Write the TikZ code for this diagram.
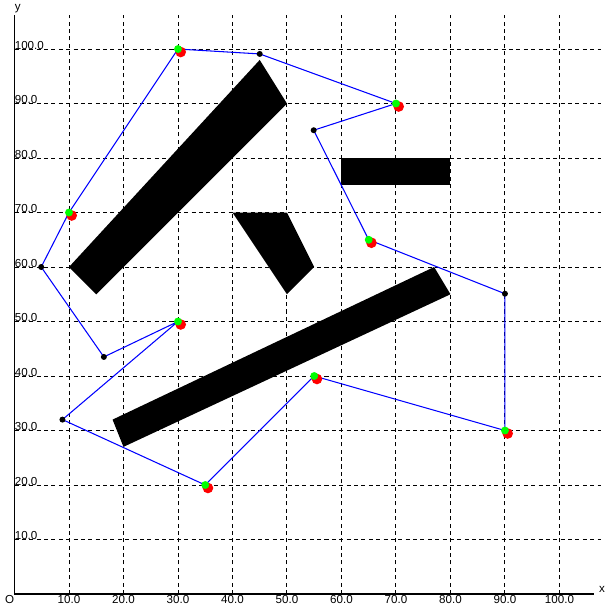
\documentclass[tikz,border=0pt]{standalone}
\usepackage{fontspec}
\setsansfont{Liberation Sans}
\usepackage{tikz}
\usetikzlibrary{positioning}
\tikzstyle{route} = [draw=blue, line width=0.6pt]

\begin{document}
\begin{tikzpicture}[x=0.109cm, y=0.109cm, every node/.style={font=\sffamily\fontsize{6.6}{7}\selectfont, inner sep=0pt}]
    % Define styles
    \tikzset{
        gridline/.style={black, line width=0.55pt, dash pattern=on 2.3pt off 1.9pt},
        axisline/.style={black, line width=0.9pt},
        obstacle/.style={fill=black},
        goal/.style={circle, fill=green, minimum size=0.158cm, draw=none},
        goalshift/.style={circle, fill=red, minimum size=0.213cm, draw=none},
        via/.style={circle, fill=black, minimum size=0.12cm, draw=none}
    }
    \useasboundingbox (-2.66,-3.12) rectangle (109.45,109.0);

    % --- GRID ---
    \foreach \i in {10,20,...,100} {
        \draw[gridline] (\i,0) -- (\i,106.2);
        \draw[gridline] (0,\i) -- (107.7,\i);
        \node[anchor=base] (xt\i) at (\i,-1.83) {\i.0};
        \node[anchor=base west] (yt\i) at (0,\i) {\i.0};
    }

    % --- AXES ---
    \draw[axisline] (0,0) -- (106.3,0);
    \draw[axisline] (0,0) -- (0,106.2);
    \node[anchor=base] (origin) at (-0.9,-1.83) {O};
    \node[anchor=base west] (xlabel) at (107.2,0.3) {x};
    \node[anchor=base west] (ylabel) at (0,107.0) {y};

    % --- OBSTACLES ---
    \fill[obstacle] (10,60) -- (15,55) -- (50,90) -- (45,98) -- cycle;
    \fill[obstacle] (40,70) -- (50,70) -- (55,60) -- (50,55) -- cycle;
    \fill[obstacle] (60,75) rectangle (80,80);
    \fill[obstacle] (18,32) -- (20,27) -- (80,55) -- (77,60) -- cycle;

    % --- ROUTE POINTS ---
    \coordinate (p1) at (30,100);
    \coordinate (v1) at (45,99.1);
    \coordinate (p2) at (70,90);
    \coordinate (v2) at (54.9,85.1);
    \coordinate (p3) at (65,65);
    \coordinate (v3) at (90,55.1);
    \coordinate (p4) at (90,30);
    \coordinate (p5) at (55,40);
    \coordinate (p6) at (35,20);
    \coordinate (v4) at (8.8,32);
    \coordinate (p7) at (30,50);
    \coordinate (v5) at (16.4,43.5);
    \coordinate (v6) at (4.9,60);
    \coordinate (p8) at (10,70);

    % Route
    \draw[route] (p1) -- (v1) -- (p2) -- (v2) -- (p3) -- (v3) -- (p4) -- (p5)
        -- (p6) -- (v4) -- (p7) -- (v5) -- (v6) -- (p8) -- cycle;

    % Intermediate points
    \foreach \v in {v1,v2,v3,v4,v5,v6}
        \node[via] (\v dot) at (\v) {};

    % Waypoints (red shifted, green on top)
    \foreach \p in {p1,p2,p3,p4,p5,p6,p7,p8} {
        \node[goalshift] (\p red) at ([shift={(0.5,-0.55)}]\p) {};
        \node[goal] (\p green) at (\p) {};
    }

\end{tikzpicture}
\end{document}
